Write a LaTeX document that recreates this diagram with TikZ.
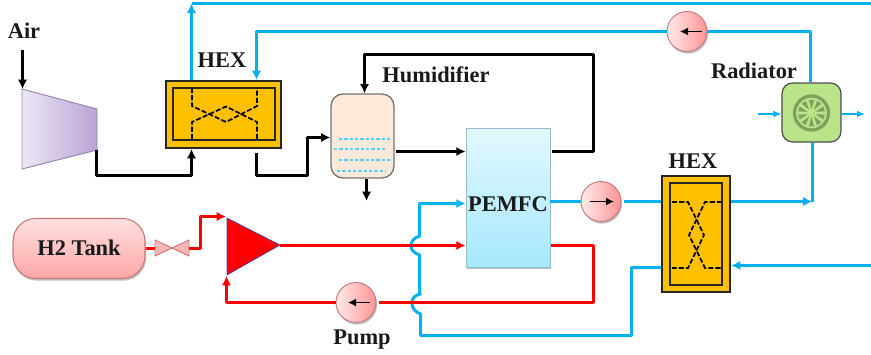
\documentclass[tikz,border=0pt]{standalone}
\usepackage{fontspec}
\setmainfont{Liberation Serif}
\usetikzlibrary{arrows.meta,shadows,calc}
\def\u{0.75pt}
\definecolor{pipeblue}{HTML}{00B0F0}
\definecolor{hexfill}{HTML}{FFC000}
\definecolor{pumpedge}{HTML}{C87878}
\definecolor{fandark}{HTML}{7F9F5C}
\definecolor{fanlight}{HTML}{B9E48A}
\definecolor{fctop}{HTML}{E2F8FF}
\definecolor{fcbot}{HTML}{A6E8FC}
\definecolor{humfill}{HTML}{FCE9DA}
\definecolor{compl}{HTML}{EDE7F6}
\definecolor{compr}{HTML}{B9A3D6}
\tikzset{
  lab/.style={font=\bfseries\fontsize{16.8}{20}\selectfont,inner sep=0pt,text=black!90},
  softshadow/.style={drop shadow={shadow xshift=0.8pt,shadow yshift=-1.6pt,opacity=.25,fill=black}},
  pumpnode/.style={circle,minimum size=40*\u,inner sep=0pt,draw=pumpedge,line width=0.7pt,left color=red!8,right color=red!42,softshadow},
  hexouter/.style={rectangle,draw=black!85,line width=1.5pt,fill=hexfill,inner sep=0pt},
  hexinner/.style={rectangle,draw=black!85,line width=1.5pt,inner sep=0pt},
  blackpipe/.style={draw=black,line width=2.25pt,line join=round},
  bluepipe/.style={draw=pipeblue,line width=2.25pt,line join=round},
  redpipe/.style={draw=red,line width=2.25pt,line join=round},
  thinblue/.style={draw=pipeblue,line width=0.9pt,-{Latex[length=6pt,width=5pt]}},
  tipb/.style={-{Latex[length=7pt,width=7pt]}},
  flowdash/.style={draw=black,line width=1.3pt,dash pattern=on 3.8pt off 1.6pt},
  waterdash/.style={draw=pipeblue!65,line width=0.8pt,dash pattern=on 2.6pt off 1.4pt},
  pumparrow/.style={draw=black,line width=1pt,-{Latex[length=6pt,width=6pt]}},
}
\begin{document}
\begin{tikzpicture}[x=0.75pt,y=-0.75pt]
\useasboundingbox (0,0) rectangle (871,354);

% compressor
\coordinate (compIn) at (22.5,89);
\coordinate (compOut) at (96.5,150);
\path[left color=compl,right color=compr,draw=compr!80!black,line width=0.7pt]
  (22,89) -- (97,109) -- (97,150) -- (22,169) -- cycle;
\coordinate (airStart) at (22.5,50);
\node[lab] (airlab) at (24,31) {Air};

% HEX 1
\node[hexouter,minimum width=115*\u,minimum height=67*\u] (hexa) at (223.5,114.5) {};
\node[hexinner,minimum width=102*\u,minimum height=52*\u] (hexaIn) at (224,114) {};
\draw[flowdash] (192,88) -- (192,106) -- (226,122) -- (257,106) -- (257,88);
\draw[flowdash] (192,139) -- (192,122) -- (226,106.5) -- (257,122) -- (257,139);
\node[lab] (hexalab) at (222,60) {HEX};

% humidifier
\node[rectangle,rounded corners=9pt,minimum width=63*\u,minimum height=84*\u,inner sep=0pt,
  draw=black!55,line width=1pt,fill=humfill] (hum) at (362.5,136) {};
\draw[waterdash] (339,139) -- (390,139);
\draw[waterdash] (334,149) -- (385,149);
\draw[waterdash] (339,160) -- (390,160);
\draw[waterdash] (337,171) -- (386,171);
\node[lab] (humlab) at (436,75) {Humidifier};
\coordinate (humDrain) at (366.5,201);

% PEMFC
\node[rectangle,minimum width=84*\u,minimum height=139*\u,inner sep=0pt,draw=cyan!45!gray!70,line width=0.6pt,
  top color=fctop,bottom color=fcbot,softshadow] (fc) at (508,197.5) {};
\node[lab] (fclab) at (508,204) {PEMFC};

% tank and valve
\node[rectangle,rounded corners=17pt,minimum width=132*\u,minimum height=60*\u,inner sep=0pt,
  draw=pumpedge,line width=0.8pt,top color=red!12,bottom color=red!35,softshadow] (tank) at (79,248.5) {};
\node[lab] (tanklab) at (79,248) {H2 Tank};
\coordinate (valveL) at (155,248.5);
\coordinate (valveR) at (189,248.5);
\path[fill=red!28,draw=pumpedge,line width=0.7pt] (155,240) -- (172,248) -- (155,256) -- cycle;
\path[fill=red!28,draw=pumpedge,line width=0.7pt] (189,240) -- (172,248) -- (189,256) -- cycle;

% recirculation blower
\path[fill=red,draw=blue!45!gray,line width=0.5pt] (227,218) -- (280,245) -- (227,275) -- cycle;
\coordinate (blowIn) at (226,216.5);
\coordinate (blowOut) at (280,245.5);
\coordinate (blowBack) at (226.5,276);

% pumps
\node[pumpnode] (pumpTop) at (687,31.5) {};
\node[pumpnode] (pumpMid) at (601,201.5) {};
\node[pumpnode] (pumpLow) at (356,302.5) {};
\draw[pumparrow] (702,31.5) -- (680,31.5);
\draw[pumparrow] (590,201.5) -- (614,201.5);
\draw[pumparrow] (370,302.5) -- (348,302.5);
\node[lab] (pumplab) at (362,340) {Pump};

% HEX 2
\node[hexouter,minimum width=68*\u,minimum height=116*\u] (hexb) at (696,234) {};
\node[hexinner,minimum width=52*\u,minimum height=102*\u] (hexbIn) at (696,234) {};
\draw[flowdash] (672,202) -- (688,202) -- (704,235) -- (688,268) -- (672,268);
\draw[flowdash] (722,202) -- (705,202) -- (689,235) -- (705,268) -- (722,268);
\node[lab] (hexblab) at (693,161) {HEX};

% radiator
\node[rectangle,rounded corners=8pt,minimum width=59*\u,minimum height=59*\u,inner sep=0pt,
  draw=black!70,line width=0.9pt,fill=fanlight] (rad) at (811.5,112.5) {};
\node[lab] (radlab) at (754,71) {Radiator};
\begin{scope}[shift={(811.5,113)}]
  \draw[fandark,line width=2.4pt] (0,0) circle (17);
  \foreach \a in {0,36,...,324}
    \fill[fandark] (\a+18:4) -- (\a+7:13.5) arc[start angle=\a+7,end angle=\a+29,radius=13.5] -- cycle;
\end{scope}
\coordinate (radAirIn) at (758,114);
\coordinate (radAirOut) at (865,114);
\draw[thinblue] (radAirIn) -- (rad.west |- radAirIn);
\draw[thinblue] (rad.east |- radAirOut) -- (radAirOut);

% black connectors
\draw[blackpipe,tipb] (airStart) -- (compIn);
\draw[blackpipe,tipb] (compOut) -- (96.5,175.5) -- (191.5,175.5) -- ([xshift=-32*\u]hexa.south);
\draw[blackpipe,tipb] ([xshift=33*\u,yshift=-4*\u]hexa.south) -- (256.5,175.5) -- (307.5,175.5) -- (307.5,137.5) -- (hum.west |- 0,137.5);
\draw[blackpipe,tipb] ([xshift=4*\u]hum.south) -- (humDrain);
\draw[blackpipe,tipb] (396,151.5) -- (fc.west |- 0,151.5);
\draw[blackpipe,tipb] (fc.east |- 0,151.5) ++(2,0) -- (593.5,151.5) -- (593.5,54.5) -- (364.5,54.5) -- ([xshift=2*\u]hum.north);

% blue connectors
\draw[bluepipe,tipb] ([xshift=-32*\u]hexa.north) -- (191.5,3.5);
\draw[bluepipe] (191.5,3.5) -- (871,3.5);
\draw[bluepipe] ([xshift=-1*\u]rad.north) -- (810.5,31.5) -- (707,31.5);
\draw[bluepipe,tipb] (pumpTop.west) -- (256.5,31.5) -- ([xshift=33*\u]hexa.north);
\draw[bluepipe] (fc.east |- pumpMid.west) -- (pumpMid.west);
\draw[bluepipe] (624,201.5) -- (hexb.west |- 0,201.5);
\draw[bluepipe,tipb] (hexb.east |- 0,201.5) -- (812.5,201.5);
\draw[bluepipe] ([xshift=1*\u]rad.south) -- (812.5,201.5);
\draw[bluepipe,tipb] (871,265.5) -- (731,265.5);
\draw[bluepipe,tipb] (hexb.west |- 0,267.5) -- (631.5,267.5) -- (631.5,335.5) -- (420.5,335.5) -- (420.5,314)
  .. controls (415,312) and (412,308) .. (412,303)
  .. controls (412,298) and (415,295) .. (420.5,294)
  -- (419.5,294) -- (419.5,255)
  .. controls (414,253) and (411,250) .. (411,246)
  .. controls (411,241) and (414,238) .. (419.5,236)
  -- (419.5,203.5) -- (fc.west |- 0,203.5);

% red connectors
\draw[redpipe] (tank.east) -- (valveL);
\draw[redpipe,tipb] (valveR) -- (200.5,248.5) -- (200.5,216.5) -- (blowIn);
\draw[redpipe,tipb] (blowOut) -- (fc.west |- 0,245.5);
\draw[redpipe] (fc.east |- 0,245.5) ++(1,0) -- (593.5,245.5) -- (593.5,302.5) -- (379,302.5);
\draw[redpipe,tipb] (pumpLow.west) -- (226.5,302.5) -- (blowBack);
\end{tikzpicture}
\end{document}
